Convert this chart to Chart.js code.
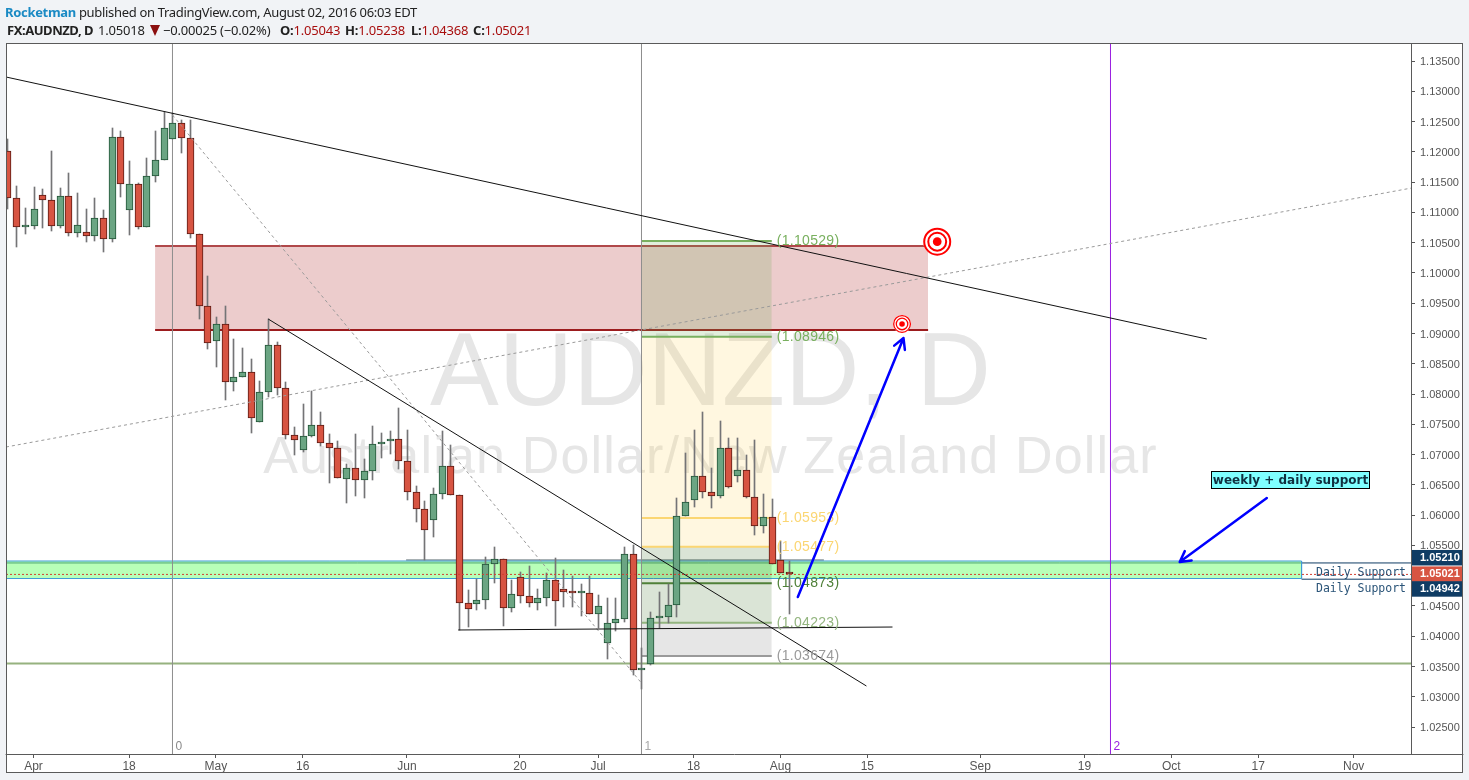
<!DOCTYPE html>
<html>
<head>
<meta charset="utf-8">
<title>AUDNZD, D</title>
<script src="https://cdn.jsdelivr.net/npm/chart.js@4"></script>
<style>
  html, body { margin: 0; padding: 0; background: #f1f3f6; overflow: hidden; }
  #wrap { position: relative; width: 1469px; height: 780px; }
  canvas { position: absolute; left: 0; top: 0; }
  .hd { position: absolute; font-family: "Noto Sans", sans-serif; font-size: 13px; line-height: 16px; color: #222; white-space: nowrap; }
  .hd b { font-weight: 700; }
  .up { color: #a80e0e; }
  .tri { position: absolute; left: 150px; top: 25px; width: 0; height: 0; border-left: 5.5px solid transparent; border-right: 5.5px solid transparent; border-top: 11px solid #8b0f0f; }
</style>
</head>
<body>
<div id="wrap">
  <canvas id="chart" width="1469" height="780"></canvas>
  <div class="hd" style="left:5px;top:4px;letter-spacing:-0.32px"><b style="color:#1a8ac4">Rocketman</b> published on TradingView.com, August 02, 2016 06:03 EDT</div>
  <div class="hd" style="left:7px;top:22px;letter-spacing:-0.45px"><b>FX:AUDNZD, D</b></div>
  <div class="hd" style="left:98px;top:22px;letter-spacing:-0.2px">1.05018</div>
  <div class="tri"></div>
  <div class="hd" style="left:163px;top:22px;letter-spacing:-0.2px">&minus;0.00025 (&minus;0.02%)</div>
  <div class="hd" style="left:280px;top:22px;letter-spacing:-0.2px"><b>O:</b><span class="up">1.05043</span></div>
  <div class="hd" style="left:345px;top:22px;letter-spacing:-0.2px"><b>H:</b><span class="up">1.05238</span></div>
  <div class="hd" style="left:411px;top:22px;letter-spacing:-0.2px"><b>L:</b><span class="up">1.04368</span></div>
  <div class="hd" style="left:473px;top:22px;letter-spacing:-0.2px"><b>C:</b><span class="up">1.05021</span></div>
</div>
<script>
// candles, first one sits 3 trading days before Apr 1
const firstDay = -3;
const opens = [
  1.12019, 1.11232, 1.10753, 1.10770, 1.11282, 1.11199, 1.10770, 1.11265, 1.10654, 1.10671,
  1.10604, 1.10902, 1.10555, 1.12239, 1.11034, 1.11463, 1.10753, 1.11595, 1.11860, 1.12206,
  1.12471, 1.12223, 1.10637, 1.09448, 1.08870, 1.09151, 1.08193, 1.08276, 1.08358, 1.07532,
  1.08028, 1.08804, 1.08094, 1.07318, 1.07081, 1.07301, 1.07483, 1.07186, 1.07103, 1.06591,
  1.06773, 1.06575, 1.06723, 1.07169, 1.07219, 1.07252, 1.06888, 1.06376, 1.06096, 1.05914,
  1.06344, 1.06806, 1.06327, 1.04543, 1.04527, 1.04593, 1.05187, 1.05270, 1.04461, 1.04973,
  1.04659, 1.04543, 1.04626, 1.04923, 1.04775, 1.04725, 1.04720, 1.04720, 1.04362, 1.03883,
  1.04213, 1.04279, 1.05353, 1.03436, 1.03536, 1.04295, 1.04312, 1.04510, 1.05980, 1.06244,
  1.06640, 1.06376, 1.06310, 1.07103, 1.06640, 1.06739, 1.06294, 1.05815, 1.05963, 1.05253,
  1.05043
];
const highs = [
  1.12206, 1.11436, 1.11072, 1.11414, 1.11386, 1.12014, 1.11397, 1.11645, 1.11315, 1.11056,
  1.11232, 1.11039, 1.12388, 1.12344, 1.11849, 1.11480, 1.11893, 1.12344, 1.12652, 1.12636,
  1.12526, 1.12526, 1.10637, 1.09949, 1.09267, 1.09448, 1.08903, 1.08755, 1.08573, 1.08210,
  1.09234, 1.08854, 1.08193, 1.07450, 1.07830, 1.08055, 1.07698, 1.07334, 1.07219, 1.06839,
  1.07334, 1.06921, 1.07466, 1.07351, 1.07384, 1.07764, 1.07400, 1.06476, 1.06233, 1.06443,
  1.07389, 1.07158, 1.06327, 1.04764, 1.04945, 1.05309, 1.05474, 1.05270, 1.04929, 1.05055,
  1.05160, 1.04780, 1.05039, 1.05292, 1.05094, 1.04995, 1.04863, 1.04995, 1.04681, 1.04631,
  1.04631, 1.05474, 1.05507, 1.03800, 1.04400, 1.04730, 1.04857, 1.06277, 1.07020, 1.07406,
  1.07697, 1.06772, 1.07549, 1.07268, 1.07268, 1.06987, 1.07235, 1.06343, 1.06261, 1.05567,
  1.05238
];
const lows = [
  1.11050, 1.10434, 1.10648, 1.10720, 1.10748, 1.10698, 1.10748, 1.10615, 1.10599, 1.10516,
  1.10533, 1.10351, 1.10516, 1.11260, 1.10632, 1.10731, 1.10753, 1.11507, 1.11860, 1.12206,
  1.11986, 1.10582, 1.09245, 1.08749, 1.08452, 1.07907, 1.08055, 1.08276, 1.07362, 1.07532,
  1.07956, 1.07989, 1.07263, 1.06998, 1.07048, 1.07285, 1.07147, 1.06536, 1.06608, 1.06206,
  1.06321, 1.06288, 1.06575, 1.06949, 1.07015, 1.06767, 1.06255, 1.05892, 1.05259, 1.05644,
  1.06261, 1.06327, 1.04103, 1.04158, 1.04433, 1.04450, 1.04885, 1.04175, 1.04406, 1.04554,
  1.04488, 1.04433, 1.04505, 1.04175, 1.04488, 1.04488, 1.04340, 1.04362, 1.04131, 1.03630,
  1.04092, 1.04241, 1.03360, 1.03123, 1.03519, 1.04130, 1.04213, 1.04323, 1.05980, 1.06128,
  1.06277, 1.06112, 1.06277, 1.06442, 1.06541, 1.06277, 1.05666, 1.05699, 1.05187, 1.05038,
  1.04368
];
const closes = [
  1.11232, 1.10753, 1.10770, 1.11050, 1.11199, 1.10770, 1.11265, 1.10654, 1.10786, 1.10604,
  1.10902, 1.10555, 1.12239, 1.11463, 1.11463, 1.10753, 1.11595, 1.11860, 1.12388, 1.12471,
  1.12223, 1.10637, 1.09448, 1.08837, 1.09151, 1.08193, 1.08276, 1.08358, 1.07599, 1.08028,
  1.08804, 1.08094, 1.07318, 1.07235, 1.07301, 1.07483, 1.07186, 1.07103, 1.06608, 1.06773,
  1.06575, 1.06723, 1.07169, 1.07186, 1.07252, 1.06888, 1.06376, 1.06096, 1.05749, 1.06344,
  1.06806, 1.06327, 1.04543, 1.04444, 1.04593, 1.05187, 1.05270, 1.04461, 1.04692, 1.04659,
  1.04543, 1.04626, 1.04923, 1.04576, 1.04725, 1.04720, 1.04725, 1.04362, 1.04494, 1.04213,
  1.04279, 1.05353, 1.03437, 1.03475, 1.04295, 1.04312, 1.04510, 1.05980, 1.06211, 1.06640,
  1.06376, 1.06310, 1.07103, 1.06459, 1.06739, 1.06294, 1.05815, 1.05963, 1.05187, 1.05038,
  1.05021
];

// axis
const priceTicks = [1.135, 1.13, 1.125, 1.12, 1.115, 1.11, 1.105, 1.10, 1.095, 1.09, 1.085, 1.08, 1.075, 1.07,
  1.065, 1.06, 1.055, 1.045, 1.04, 1.035, 1.03, 1.025];
const dayTicks = [0, 11, 21, 31, 43, 56, 65, 76, 86, 96, 109, 121, 131, 141, 152];
const dayLabels = ['Apr', '18', 'May', '16', 'Jun', '20', 'Jul', '18', 'Aug', '15', 'Sep', '19', 'Oct', '17', 'Nov'];
const xMin = -3.168, xMax = 158.6;
const yMin = 1.02055, yMax = 1.13781;

// drawings, in trading day / price
const blackLines = [
  [[-3.17, 1.13236], [135.08, 1.08909]],
  [[27.02, 1.09239], [95.9, 1.03178]],
  [[48.9, 1.04103], [98.9, 1.04152]]
];
const dashedLines = [
  [[-3.17, 1.07125], [158.69, 1.11403]],
  [[16, 1.12608], [70, 1.03227]]
];
const cycleDays = [16, 70, 124];
const cycleLabels = ['0', '1', '2'];
const floorPrice = 1.03549;
const redZone = [14, 103, 1.10445, 1.09057];
const supportZone = [-3.17, 146, 1.05242, 1.04953];
const supportBand = [42.9, 91, 1.05259];
const dailySupport = [1.0521, 1.04942];
const lastClose = 1.05021;

const fibDays = [70, 85];
const fibLevels = [1.10529, 1.08946, 1.05953, 1.05477, 1.04873, 1.04223, 1.03674];
const fibLabels = ['(1.10529)', '(1.08946)', '(1.05953)', '(1.05477)', '(1.04873)', '(1.04223)', '(1.03674)'];
const fibColors = ['#79b05f', '#79b05f', '#fbd672', '#fbd672', '#4f8038', '#93b57f', '#9a9a9a'];
const fibFills = ['rgba(106,168,79,.2)', 'rgba(255,204,60,.16)', 'rgba(255,204,60,.16)', 'rgba(70,120,50,.2)', 'rgba(70,120,50,.2)', 'rgba(128,128,128,.2)'];

const arrows = [
  [[88, 1.04648], [100.17, 1.08925]],
  [[142, 1.06283], [131.97, 1.05226]]
];
const targets = [
  [104.05, 1.10516, 14],
  [100, 1.09157, 9]
];

const UP = '#6ba583', UP_EDGE = '#225437', DOWN = '#d75442', DOWN_EDGE = '#5b1a13';
const days = opens.map((_, i) => firstDay + i);
const isUp = opens.map((o, i) => closes[i] >= o);

function line(points, color, width, order, dash) {
  return {
    type: 'line',
    data: points.map(p => ({ x: p[0], y: p[1] })),
    borderColor: color,
    borderWidth: width,
    borderDash: dash || [],
    pointRadius: 0,
    tension: 0,
    fill: false,
    order: order
  };
}

function band(x0, x1, top, bottom, color, order) {
  return {
    type: 'line',
    data: [{ x: x0, y: top }, { x: x1, y: top }],
    borderWidth: 0,
    borderColor: 'rgba(0,0,0,0)',
    backgroundColor: color,
    pointRadius: 0,
    fill: { value: bottom },
    order: order
  };
}

const datasets = [];

// zones
datasets.push(band(redZone[0], redZone[1], redZone[2], redZone[3], 'rgba(180,50,50,.25)', 95));
datasets.push(line([[redZone[0], redZone[2]], [redZone[1], redZone[2]]], '#b0484a', 2, 94));
datasets.push(line([[redZone[0], redZone[3]], [redZone[1], redZone[3]]], '#9c1c1e', 2, 94));

datasets.push(line([[xMin, dailySupport[0]], [xMax, dailySupport[0]]], '#0f3c64', 1, 90));
datasets.push(line([[supportZone[1], dailySupport[1]], [xMax, dailySupport[1]]], '#0f3c64', 1, 90));
datasets.push(line([[supportBand[0], supportBand[2]], [supportBand[1], supportBand[2]]], 'rgba(110,125,130,.6)', 2, 89));
datasets.push(band(supportZone[0], supportZone[1], supportZone[2], supportZone[3], 'rgba(125,255,125,.55)', 88));
datasets.push(line([[supportZone[0], supportZone[2]], [supportZone[1], supportZone[2]], [supportZone[1], supportZone[3]], [supportZone[0], supportZone[3]]], '#3d9bd6', 1, 87));

// fib
fibFills.forEach((c, i) => {
  datasets.push(band(fibDays[0], fibDays[1], fibLevels[i], fibLevels[i + 1], c, 85));
});
fibLevels.forEach((p, i) => {
  datasets.push(line([[fibDays[0], p], [fibDays[1], p]], fibColors[i], 2, 84));
});

datasets.push(line([[xMin, floorPrice], [xMax, floorPrice]], '#96b27f', 2, 83));

// time cycles
cycleDays.forEach((d, i) => {
  datasets.push(line([[d, yMin], [d, yMax]], i === 2 ? '#9a1fe0' : '#8d8d8d', 1, 80));
});

// candles
datasets.push({
  type: 'bar',
  data: days.map((d, i) => ({ x: d, y: [lows[i], highs[i]] })),
  backgroundColor: '#747476',
  borderWidth: 0,
  barThickness: 1,
  grouped: false,
  order: 51
});
datasets.push({
  type: 'bar',
  data: days.map((d, i) => ({ x: d, y: [opens[i], closes[i]] })),
  backgroundColor: isUp.map(u => u ? UP : DOWN),
  borderColor: isUp.map(u => u ? UP_EDGE : DOWN_EDGE),
  borderWidth: 1,
  borderSkipped: false,
  barThickness: 7,
  minBarLength: 2,
  grouped: false,
  order: 50
});

// trend lines
blackLines.forEach(l => datasets.push(line(l, '#111111', 1, 30)));
dashedLines.forEach(l => datasets.push(line(l, '#9a9a9a', 1, 31, [3, 3])));
datasets.push(line([[xMin, lastClose], [xMax, lastClose]], '#d23f31', 1, 20, [2, 2]));

const overlay = {
  id: 'overlay',
  afterDatasetsUpdate(chart) {
    // keep the candles on whole pixels so they stay sharp
    chart.getSortedVisibleDatasetMetas().forEach(meta => {
      if (meta.type !== 'bar') return;
      meta.data.forEach(bar => {
        bar.x = Math.round(bar.x) + 0.5;
        bar.y = Math.round(bar.y);
        bar.base = Math.round(bar.base);
      });
    });
  },
  beforeDraw(chart) {
    const { ctx, width, height, chartArea: a, scales: { y } } = chart;
    ctx.save();
    ctx.fillStyle = '#ffffff';
    ctx.fillRect(a.left, a.top, width - a.left - 6, height - a.top - 7);
    ctx.restore();
    // price labels sit a pixel lower than the tick
    y.getLabelItems().forEach(item => { item.options.translation[1] = item.options.translation[1] + 1; });
  },
  beforeDatasetsDraw(chart) {
    const { ctx, chartArea: a } = chart;
    const cx = (a.left + a.right) / 2;
    ctx.save();
    ctx.textAlign = 'center';
    ctx.textBaseline = 'alphabetic';
    ctx.fillStyle = '#e6e6e6';
    ctx.font = '103px "Liberation Sans"';
    ctx.fillText('AUDNZD, D', cx + 2, 405);
    ctx.font = '52px "Liberation Sans"';
    ctx.letterSpacing = '1.17px';
    ctx.fillText('Australian Dollar/New Zealand Dollar', cx + 2, 473);
    ctx.restore();
  },
  afterDraw(chart) {
    const { ctx, width, height, chartArea: a, scales: { x, y } } = chart;
    ctx.save();

    // cycle numbers
    ctx.font = '12px "Liberation Sans"';
    ctx.textAlign = 'left';
    ctx.textBaseline = 'alphabetic';
    cycleDays.forEach((d, i) => {
      ctx.fillStyle = ['#8a8a8a', '#a8a8a8', '#9a1fe0'][i];
      ctx.fillText(cycleLabels[i], x.getPixelForValue(d) + 3, 750);
    });

    // fib labels
    ctx.font = '14px "Liberation Sans"';
    ctx.letterSpacing = '0.3px';
    ctx.textBaseline = 'middle';
    fibLevels.forEach((p, i) => {
      ctx.fillStyle = fibColors[i];
      ctx.fillText(fibLabels[i], x.getPixelForValue(fibDays[1]) + 5, y.getPixelForValue(p));
    });
    ctx.letterSpacing = '0px';

    // arrows
    ctx.strokeStyle = '#0000ff';
    ctx.lineWidth = 2.5;
    ctx.lineCap = 'round';
    arrows.forEach(a0 => {
      const x0 = x.getPixelForValue(a0[0][0]), y0 = y.getPixelForValue(a0[0][1]);
      const x1 = x.getPixelForValue(a0[1][0]), y1 = y.getPixelForValue(a0[1][1]);
      const ang = Math.atan2(y1 - y0, x1 - x0);
      ctx.beginPath();
      ctx.moveTo(x0, y0);
      ctx.lineTo(x1, y1);
      [-0.5, 0.5].forEach(d => {
        ctx.moveTo(x1, y1);
        ctx.lineTo(x1 - 12 * Math.cos(ang + d), y1 - 12 * Math.sin(ang + d));
      });
      ctx.stroke();
    });

    // targets
    targets.forEach(t => {
      const tx = x.getPixelForValue(t[0]), ty = y.getPixelForValue(t[1]), r = t[2];
      ctx.fillStyle = '#ffffff';
      ctx.beginPath();
      ctx.arc(tx, ty, r, 0, Math.PI * 2);
      ctx.fill();
      ctx.strokeStyle = '#ff0000';
      ctx.lineWidth = r / 7;
      ctx.beginPath();
      ctx.arc(tx, ty, r - r / 14, 0, Math.PI * 2);
      ctx.stroke();
      ctx.beginPath();
      ctx.arc(tx, ty, r * 0.64, 0, Math.PI * 2);
      ctx.stroke();
      ctx.fillStyle = '#ff0000';
      ctx.beginPath();
      ctx.arc(tx, ty, r * 0.31, 0, Math.PI * 2);
      ctx.fill();
    });

    // callout
    ctx.fillStyle = '#7fffff';
    ctx.fillRect(1211.5, 471.5, 158, 17);
    ctx.strokeStyle = '#000000';
    ctx.lineWidth = 1;
    ctx.strokeRect(1211.5, 471.5, 158, 17);
    ctx.fillStyle = '#103040';
    ctx.font = 'bold 12px "DejaVu Sans"';
    ctx.textAlign = 'center';
    ctx.fillText('weekly + daily support', 1290.5, 480.5);

    // daily support text
    ctx.font = '11.5px "DejaVu Sans Mono"';
    ctx.textAlign = 'right';
    ctx.fillStyle = '#2a5478';
    ctx.fillText('Daily Support', a.right - 5, y.getPixelForValue(dailySupport[0]) + 10);
    ctx.fillText('Daily Support', a.right - 5, y.getPixelForValue(dailySupport[1]) + 10);

    // price tags on the axis
    const tags = [
      [dailySupport[0], '#0f3c64', -5],
      [lastClose, '#d75442', 0],
      [dailySupport[1], '#0f3c64', 10]
    ];
    ctx.font = 'bold 11px "Liberation Sans"';
    ctx.textAlign = 'left';
    tags.forEach(t => {
      const ty = y.getPixelForValue(t[0]) + t[2];
      ctx.fillStyle = t[1];
      ctx.fillRect(a.right + 1, ty - 8, width - a.right - 7, 15.5);
      ctx.fillStyle = '#ffffff';
      ctx.fillText(t[0].toFixed(5), a.right + 9, ty);
    });

    // frame
    ctx.strokeStyle = '#5a5a5a';
    ctx.lineWidth = 1;
    ctx.strokeRect(a.left + 0.5, a.top - 0.5, width - a.left - 7, height - a.top - 7);
    ctx.beginPath();
    ctx.moveTo(a.right + 0.5, a.top);
    ctx.lineTo(a.right + 0.5, a.bottom);
    ctx.moveTo(a.left, a.bottom + 0.5);
    ctx.lineTo(width - 6, a.bottom + 0.5);
    ctx.stroke();
    ctx.restore();
  }
};

new Chart(document.getElementById('chart'), {
  type: 'bar',
  data: { datasets: datasets },
  plugins: [overlay],
  options: {
    responsive: false,
    animation: false,
    events: [],
    layout: { padding: { left: 6, top: 44, right: 0, bottom: 0 } },
    plugins: { legend: { display: false }, tooltip: { enabled: false } },
    scales: {
      x: {
        type: 'linear',
        min: xMin,
        max: xMax,
        offset: false,
        grid: { drawOnChartArea: false, tickLength: 4, color: '#555555', offset: false },
        border: { display: false },
        afterBuildTicks: s => { s.ticks = dayTicks.map(v => ({ value: v })); },
        afterFit: s => { s.height = 26; },
        ticks: {
          autoSkip: false,
          maxRotation: 0,
          padding: 1,
          color: '#555555',
          font: { family: '"Liberation Sans"', size: 12 },
          callback: v => dayLabels[dayTicks.indexOf(v)]
        }
      },
      y: {
        type: 'linear',
        position: 'right',
        min: yMin,
        max: yMax,
        grid: { drawOnChartArea: false, tickLength: 4, color: '#555555' },
        border: { display: false },
        afterBuildTicks: s => { s.ticks = priceTicks.map(v => ({ value: v })); },
        afterFit: s => { s.width = 58; },
        ticks: {
          autoSkip: false,
          padding: 5,
          color: '#555555',
          font: { family: '"Liberation Sans"', size: 11 },
          callback: v => v.toFixed(5)
        }
      }
    }
  }
});
</script>
</body>
</html>
